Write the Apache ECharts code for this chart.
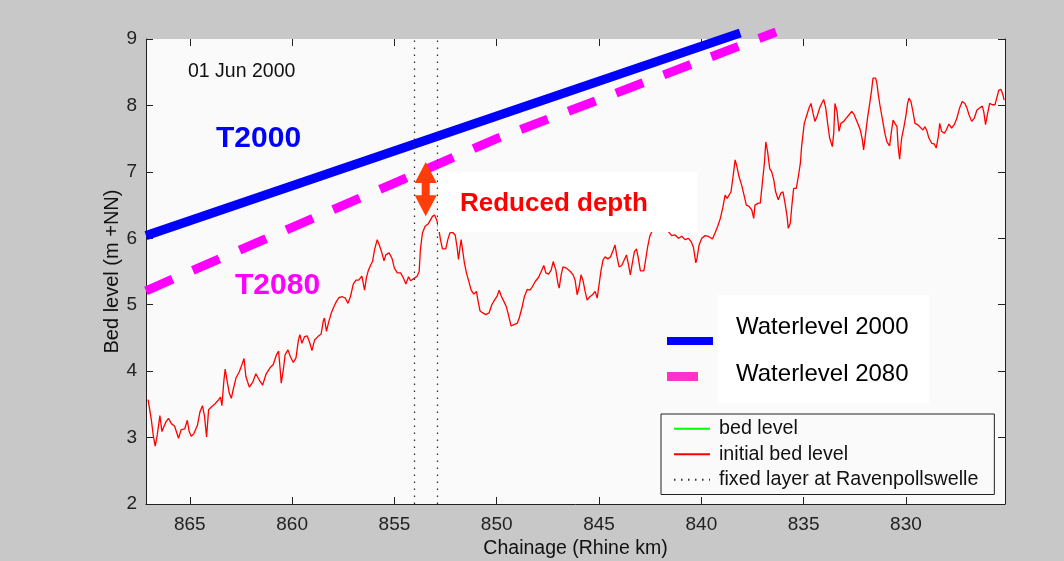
<!DOCTYPE html>
<html>
<head>
<meta charset="utf-8">
<script src="https://cdn.jsdelivr.net/npm/echarts@6/dist/echarts.min.js"></script>
<style>
html,body{margin:0;padding:0;background:#c8c8c8;}
#c{width:1064px;height:561px;}
</style>
</head>
<body>
<div id="c"></div>
<script>
// ---- data ----
const chainageKm = [
867.04, 866.98, 866.88, 866.78, 866.69, 866.59, 866.46, 866.36, 866.26, 866.16,
866.04, 865.90, 865.74, 865.55, 865.42, 865.25, 865.12, 865.03, 864.93, 864.80,
864.63, 864.50, 864.38, 864.28, 864.18, 864.08, 863.95, 863.76, 863.59, 863.50,
863.43, 863.33, 863.27, 863.17, 863.07, 862.97, 862.88, 862.74, 862.58, 862.45,
862.35, 862.26, 862.09, 861.93, 861.77, 861.61, 861.44, 861.28, 861.08, 860.92,
860.76, 860.66, 860.59, 860.53, 860.43, 860.34, 860.20, 860.09,
859.94, 859.81, 859.69, 859.62, 859.52, 859.39, 859.26, 859.13, 859.03, 858.90,
858.74, 858.58, 858.48, 858.42, 858.32, 858.22, 858.09, 857.96, 857.83, 857.70,
857.54, 857.40, 857.27, 857.15, 857.01, 856.88, 856.75, 856.59, 856.46, 856.36,
856.27, 856.17, 856.07, 855.97, 855.84, 855.74, 855.61, 855.51, 855.42, 855.26,
855.12, 855.00, 854.86, 854.70, 854.57, 854.44, 854.31, 854.21, 854.12, 854.02,
853.89, 853.79, 853.73, 853.63, 853.50,
853.34, 853.14, 853.04, 852.94, 852.85, 852.75, 852.65, 852.49, 852.39, 852.29,
852.16, 852.03, 851.93, 851.87, 851.80, 851.74, 851.67, 851.58, 851.48, 851.38,
851.25, 851.12, 850.99, 850.92, 850.82, 850.70, 850.53, 850.37, 850.24, 850.11,
849.98, 849.88, 849.78, 849.65, 849.53, 849.43, 849.30, 849.16, 849.00, 848.90,
848.77, 848.65, 848.51, 848.38, 848.26, 848.12, 847.96, 847.80, 847.70, 847.60,
847.47, 847.34, 847.24, 847.11, 847.01, 846.95, 846.85, 846.76, 846.59,
846.40, 846.27, 846.17, 846.07, 845.97, 845.88, 845.78, 845.68, 845.58, 845.45,
845.32, 845.19, 845.09, 845.00, 844.90, 844.80, 844.70, 844.57, 844.44, 844.31,
844.22, 844.12, 844.02, 843.89, 843.76, 843.66, 843.57, 843.47, 843.37, 843.27,
843.17, 843.08, 842.98, 842.81, 842.72, 842.62, 842.52, 842.42, 842.16, 841.87,
841.61, 841.45, 841.28, 841.12, 840.96, 840.80, 840.63, 840.50, 840.39, 840.27,
840.21, 840.11, 839.98, 839.82,
839.66, 839.46, 839.33, 839.20, 839.07, 838.94, 838.84, 838.74, 838.65, 838.55,
838.45, 838.35, 838.26, 838.16, 838.03, 837.90, 837.80, 837.67, 837.54, 837.44,
837.38, 837.22, 837.12, 837.02, 836.92, 836.85, 836.76, 836.66, 836.56, 836.46,
836.37, 836.24, 836.11, 836.01, 835.91, 835.81, 835.75, 835.65, 835.58, 835.49,
835.36, 835.26, 835.16, 835.10, 834.97, 834.84, 834.74, 834.64, 834.54, 834.45,
834.35, 834.22, 834.12, 834.02, 833.92, 833.82, 833.73, 833.60, 833.53, 833.47,
833.37, 833.27, 833.18, 833.04, 832.92, 832.78, 832.65, 832.53,
832.36, 832.23, 832.13, 832.07, 831.97, 831.87, 831.77, 831.68, 831.61, 831.48,
831.42, 831.35, 831.26, 831.16, 831.03, 830.93, 830.80, 830.70, 830.63, 830.54,
830.44, 830.38, 830.31, 830.21, 830.11, 830.01, 829.92, 829.85, 829.76, 829.66,
829.56, 829.43, 829.30, 829.17, 829.07, 828.97, 828.88, 828.74, 828.62, 828.52,
828.42, 828.35, 828.26, 828.13, 828.03, 827.90, 827.77, 827.64, 827.51, 827.38,
827.25, 827.12, 827.02, 826.92, 826.79, 826.66, 826.53, 826.40, 826.27, 826.20,
826.11, 826.01, 825.91, 825.78, 825.65, 825.55, 825.46, 825.36, 825.26, 825.20
];
const initialBedLevel = [
3.57, 3.56, 3.27, 3.02, 2.87, 3.04, 3.33, 3.09, 3.17, 3.24,
3.29, 3.21, 3.17, 2.99, 3.12, 3.13, 3.26, 3.09, 3.02, 3.06,
3.18, 3.39, 3.48, 3.32, 3.01, 3.42, 3.46, 3.51, 3.57, 3.61,
3.48, 3.87, 4.03, 3.84, 3.67, 3.59, 3.72, 3.90, 3.99, 4.10,
4.19, 3.92, 3.76, 3.83, 3.96, 3.87, 3.79, 3.95, 4.05, 4.10,
4.25, 4.30, 4.05, 3.82, 4.02, 4.25, 4.32, 4.22,
4.13, 4.20, 4.47, 4.55, 4.42, 4.52, 4.53, 4.42, 4.31, 4.47,
4.52, 4.56, 4.75, 4.80, 4.60, 4.73, 4.87, 4.97, 5.05, 5.11,
5.12, 5.10, 5.02, 5.12, 5.31, 5.37, 5.37, 5.43, 5.22, 5.42,
5.52, 5.59, 5.65, 5.83, 5.98, 5.90, 5.78, 5.66, 5.75, 5.78,
5.70, 5.55, 5.48, 5.48, 5.41, 5.31, 5.42, 5.36, 5.33, 5.40,
5.43, 5.50, 5.83, 6.08, 6.18,
6.22, 6.33, 6.35, 6.28, 6.18, 5.98, 5.84, 5.84, 5.98, 6.08,
6.09, 6.05, 5.85, 5.68, 5.85, 5.98, 5.83, 5.63, 5.48, 5.37,
5.22, 5.16, 5.20, 5.07, 4.91, 4.88, 4.85, 4.88, 5.00, 5.07,
5.13, 5.22, 5.13, 5.05, 4.97, 4.85, 4.68, 4.70, 4.72, 4.80,
4.95, 5.12, 5.23, 5.22, 5.27, 5.35, 5.41, 5.52, 5.59, 5.48,
5.46, 5.52, 5.65, 5.52, 5.32, 5.25, 5.45, 5.57, 5.55,
5.50, 5.45, 5.37, 5.15, 5.27, 5.45, 5.36, 5.20, 5.07, 5.12,
5.15, 5.20, 5.10, 5.30, 5.52, 5.68, 5.72, 5.69, 5.72, 5.82,
5.90, 5.72, 5.57, 5.59, 5.68, 5.75, 5.62, 5.45, 5.63, 5.80,
5.84, 5.70, 5.51, 5.51, 5.68, 5.88, 6.03, 6.10, 6.25, 6.19,
6.10, 6.04, 6.05, 6.00, 6.03, 5.98, 6.00, 5.95, 5.87, 5.63,
5.70, 5.90, 6.00, 6.04,
6.03, 5.99, 6.08, 6.18, 6.30, 6.48, 6.65, 6.60, 6.58, 6.70,
6.93, 7.18, 7.08, 6.93, 6.80, 6.63, 6.50, 6.48, 6.43, 6.30,
6.50, 6.53, 6.53, 6.83, 7.13, 7.45, 7.30, 7.05, 7.00, 6.88,
6.70, 6.58, 6.68, 6.70, 6.53, 6.33, 6.15, 6.23, 6.48, 6.75,
6.75, 6.93, 7.13, 7.38, 7.73, 7.86, 7.96, 8.03, 7.88, 7.76,
7.83, 7.96, 8.03, 8.09, 7.96, 7.71, 7.51, 7.38, 7.58, 8.03,
7.91, 7.61, 7.73, 7.76, 7.81, 7.86, 7.91, 7.86,
7.73, 7.63, 7.48, 7.33, 7.58, 7.83, 8.03, 8.23, 8.41, 8.41,
8.33, 8.16, 7.98, 7.81, 7.58, 7.45, 7.39, 7.63, 7.78, 7.73,
7.68, 7.38, 7.19, 7.51, 7.66, 7.83, 8.03, 8.11, 8.06, 7.91,
7.73, 7.71, 7.67, 7.63, 7.68, 7.61, 7.51, 7.43, 7.42, 7.36,
7.53, 7.73, 7.61, 7.58, 7.63, 7.72, 7.66, 7.71, 7.81, 7.96,
8.06, 8.03, 7.96, 7.86, 7.76, 7.81, 7.93, 7.96, 7.99, 7.91,
7.71, 7.88, 8.03, 8.01, 8.01, 8.13, 8.23, 8.24, 8.16, 8.08
];
const bedLevelKm = [];
const bedLevel = [];
const water2000Km = [867.14, 838.10];
const water2000 = [6.04, 9.09];
const water2080Km = [867.14, 850.00, 836.35];
const water2080 = [5.21, 7.50, 9.105];
const fixedLayerKm = [854.02, 852.92];
const depthArrow = [853.47, 7.15, 6.33]; // km, upper level, lower level
const xTicks = [830, 835, 840, 845, 850, 855, 860, 865];
const xRange = [825.16, 867.14];
const yRange = [2, 9];

// ---- build ----
const zip = (a, b) => a.map((v, i) => [v, b[i]]);
const FONT = 'Liberation Sans, Arial, Helvetica, sans-serif';
const AX = '#222';

const chart = echarts.init(document.getElementById('c'), null, {renderer: 'canvas'});

const xBase = {
  type: 'value', inverse: true, min: xRange[0], max: xRange[1],
  axisLine: {show: true, onZero: false, lineStyle: {color: AX, width: 1}},
  axisTick: {show: true, inside: true, length: 7, customValues: xTicks, lineStyle: {color: AX}},
  splitLine: {show: false}
};
const yBase = {
  type: 'value', min: yRange[0], max: yRange[1], interval: 1,
  axisLine: {show: true, onZero: false, lineStyle: {color: AX, width: 1}},
  axisTick: {show: true, inside: true, length: 7, lineStyle: {color: AX}},
  splitLine: {show: false}
};

const option = {
  animation: false,
  backgroundColor: '#c8c8c8',
  grid: {left: 146, right: 59, top: 39, bottom: 57, show: true, backgroundColor: '#fafafa', borderWidth: 0, containLabel: false, outerBoundsMode: 'none'},
  xAxis: [
    Object.assign({}, xBase, {
      position: 'bottom',
      name: 'Chainage (Rhine km)', nameLocation: 'middle', nameGap: 34,
      nameTextStyle: {fontSize: 19.5, color: '#111', fontFamily: FONT},
      axisLabel: {customValues: xTicks, fontSize: 19, color: '#222', margin: 11, fontFamily: FONT}
    }),
    Object.assign({}, xBase, {
      position: 'top', axisLabel: {show: false},
      axisLine: {show: false, onZero: false}
    })
  ],
  yAxis: [
    Object.assign({}, yBase, {
      position: 'left',
      name: 'Bed level (m +NN)', nameLocation: 'middle', nameGap: 24, nameRotate: 90,
      nameMoveOverlap: false,
      nameTextStyle: {fontSize: 20, color: '#111', fontFamily: FONT},
      axisLabel: {fontSize: 19, color: '#222', margin: 9, fontFamily: FONT}
    }),
    Object.assign({}, yBase, {position: 'right', axisLabel: {show: false}})
  ],
  legend: {
    orient: 'vertical', left: 661, top: 414,
    padding: [2, 16, 2, 12],
    itemGap: 0, itemWidth: 36, itemHeight: 14,
    borderColor: '#222', borderWidth: 1, backgroundColor: '#fafafa',
    selectedMode: false,
    itemStyle: {opacity: 0},
    textStyle: {fontSize: 19.7, color: '#111', fontFamily: FONT, lineHeight: 25.5, padding: [0, 0, 0, 4]},
    data: ['bed level', 'initial bed level', 'fixed layer at Ravenpollswelle']
  },
  series: [
    {
      name: 'bed level', type: 'line', data: zip(bedLevelKm, bedLevel),
      symbol: 'none', color: '#00ff00', lineStyle: {color: '#00ff00', width: 1.3}
    },
    {
      name: 'initial bed level', type: 'line', data: zip(chainageKm, initialBedLevel),
      symbol: 'none', color: '#ff0000', lineStyle: {color: '#ff0000', width: 1.3}, z: 3
    },
    {
      name: 'fixed layer at Ravenpollswelle', type: 'line', data: [],
      symbol: 'none', color: '#333',
      lineStyle: {color: '#333', width: 1.3, type: [1.5, 5.5]},
      markLine: {
        silent: true, symbol: ['none', 'none'], label: {show: false},
        lineStyle: {color: '#333', width: 1.3, type: [1.5, 5.5]},
        emphasis: {disabled: true},
        data: fixedLayerKm.map(v => ({xAxis: v}))
      },
      z: 1
    },
    {
      name: 'Waterlevel 2000', type: 'line', data: zip(water2000Km, water2000),
      symbol: 'none', clip: false, color: '#0000ff',
      lineStyle: {color: '#0000ff', width: 9}, z: 4
    },
    {
      name: 'Waterlevel 2080', type: 'line', data: zip(water2080Km, water2080),
      symbol: 'none', clip: false, color: '#ff00ff',
      lineStyle: {color: '#ff00ff', width: 9, type: [29, 22]}, z: 4
    },
    {
      name: 'Reduced depth', type: 'custom', data: [depthArrow], z: 6,
      renderItem: function (params, api) {
        const t = api.coord([api.value(0), api.value(1)]);
        const b = api.coord([api.value(0), api.value(2)]);
        const cx = t[0], hw = 11, sw = 4, hh = 21;
        return {
          type: 'polygon',
          shape: {points: [
            [cx, t[1]], [cx + hw, t[1] + hh], [cx + sw, t[1] + hh],
            [cx + sw, b[1] - hh], [cx + hw, b[1] - hh], [cx, b[1]],
            [cx - hw, b[1] - hh], [cx - sw, b[1] - hh], [cx - sw, t[1] + hh],
            [cx - hw, t[1] + hh]
          ]},
          style: {fill: '#ff3d0a'}
        };
      }
    }
  ],
  graphic: [
    {type: 'text', left: 188, top: 62, z: 20, style: {text: '01 Jun 2000', fill: '#111', font: '19.5px ' + FONT}},
    {type: 'text', left: 216, top: 124, z: 20, style: {text: 'T2000', fill: '#0000ff', font: 'bold 30px ' + FONT}},
    {type: 'text', left: 235, top: 271, z: 20, style: {text: 'T2080', fill: '#ff00ff', font: 'bold 30px ' + FONT}},
    {type: 'rect', z: 20, shape: {x: 438, y: 172, width: 259, height: 60}, style: {fill: '#ffffff'}},
    {type: 'text', left: 460, top: 191, z: 21, style: {text: 'Reduced depth', fill: '#ff0000', font: 'bold 26px ' + FONT}},
    {type: 'rect', z: 20, shape: {x: 717, y: 295, width: 212, height: 108}, style: {fill: '#ffffff'}},
    {type: 'rect', z: 21, shape: {x: 667, y: 337, width: 46, height: 8}, style: {fill: '#0000ff'}},
    {type: 'rect', z: 21, shape: {x: 667, y: 372, width: 31, height: 9}, style: {fill: '#ff33cc'}},
    {type: 'text', left: 736, top: 315, z: 21, style: {text: 'Waterlevel 2000', fill: '#000', font: '24px ' + FONT}},
    {type: 'text', left: 736, top: 362, z: 21, style: {text: 'Waterlevel 2080', fill: '#000', font: '24px ' + FONT}}
  ]
};
chart.setOption(option);
</script>
</body>
</html>
